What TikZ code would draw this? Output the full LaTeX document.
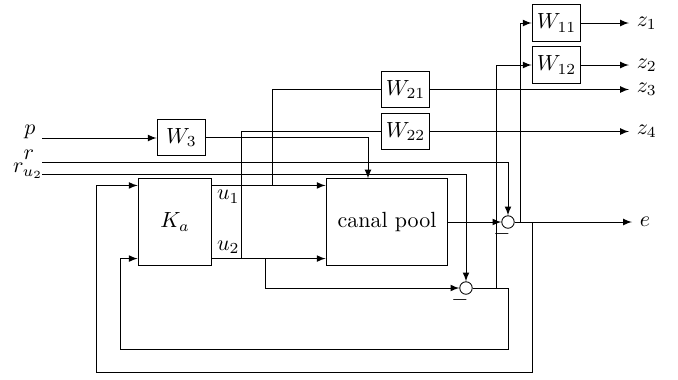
\documentclass[tikz,border=0pt]{standalone}
\usetikzlibrary{calc}
\begin{document}
\begin{tikzpicture}[x=0.016cm, y=-0.016cm, >=latex,
        block/.style={draw, minimum width=0.78cm, minimum height=0.59cm, inner sep=0pt},
        sum/.style={draw, circle, minimum size=0.2cm, inner sep=0pt},
        outlbl/.style={anchor=west}]
        \useasboundingbox (0,0) rectangle (678,379);

        % Blocks
        \node[block, minimum width=1.18cm, minimum height=1.38cm] (Ka) at (175,222) {$K_a$};
        \node[block, minimum width=1.95cm, minimum height=1.38cm] (pool) at (387,222) {canal pool};
        \node[block] (W3) at (181.5,137.5) {$W_3$};
        \node[block] (W21) at (405.5,89.5) {$W_{21}$};
        \node[block] (W22) at (405.5,131.5) {$W_{22}$};
        \node[block] (W11) at (556.5,23) {$W_{11}$};
        \node[block] (W12) at (556.5,65) {$W_{12}$};

        % Summing junctions
        \node[sum] (sum1) at (508,222) {};
        \node[sum] (sum2) at (466,288) {};
        \node (m1) at ($(sum1)+(-6,12)$) {$-$};
        \node (m2) at ($(sum2)+(-6,12)$) {$-$};

        % Inputs
        \node (p) at (30,132) {$p$};
        \node (r) at (29,155) {$r$};
        \node (ru) at (28,171) {$r_{u_2}$};
        \coordinate (pin) at (42,138);
        \coordinate (rin) at (42,162);
        \coordinate (ruin) at (42,174);

        % Outputs
        \node[outlbl] (z1) at (629,23) {$z_1$};
        \node[outlbl] (z2) at (629,65) {$z_2$};
        \node[outlbl] (z3) at (629,89.5) {$z_3$};
        \node[outlbl] (z4) at (629,131.5) {$z_4$};
        \node[outlbl] (e) at (632,222) {$e$};

        % Disturbance and references
        \draw[->] (pin) -- (pin -| W3.west);
        \draw[->] (W3) -| ($(pool.north)+(-19,0)$);
        \draw[->] (rin) -| (sum1);
        \draw[->] (ruin) -| (sum2);

        % Controller outputs
        \coordinate (u1) at ($(Ka.north east)+(0,7)$);
        \coordinate (u2) at ($(Ka.south east)+(0,-7)$);
        \draw[->] (u1) -- (u1 -| pool.west);
        \draw[->] (u2) -- (u2 -| pool.west);
        \node[anchor=north west, inner sep=2pt] (lu1) at (u1) {$u_1$};
        \node[anchor=south west, inner sep=2pt] (lu2) at (u2) {$u_2$};
        \draw ($(u1)+(60,0)$) |- (W21);
        \draw ($(u2)+(29,0)$) |- (W22);
        \draw[->] ($(u2)+(53,0)$) |- (sum2);

        % Weighted outputs
        \draw[->] (W11) -- (z1);
        \draw[->] (W12) -- (z2);
        \draw[->] (W21) -- (z3);
        \draw[->] (W22) -- (z4);

        % Errors
        \draw[->] (pool) -- (sum1);
        \draw[->] (sum1) -- (e);
        \draw[->] ($(sum1.east)+(6,0)$) |- (W11);
        \draw[->] ($(sum2.east)+(24,0)$) |- (W12);

        % Feedback
        \coordinate (k1) at ($(Ka.north west)+(0,7)$);
        \coordinate (k2) at ($(Ka.south west)+(0,-7)$);
        \draw[->] ($(sum1.east)+(18,0)$) -- ++(0,150) -| ($(k1)+(-41,0)$) -- (k1);
        \draw[->] (sum2.east) -- ++(36,0) -- ++(0,61) -| ($(k2)+(-17,0)$) -- (k2);
    \end{tikzpicture}
\end{document}
